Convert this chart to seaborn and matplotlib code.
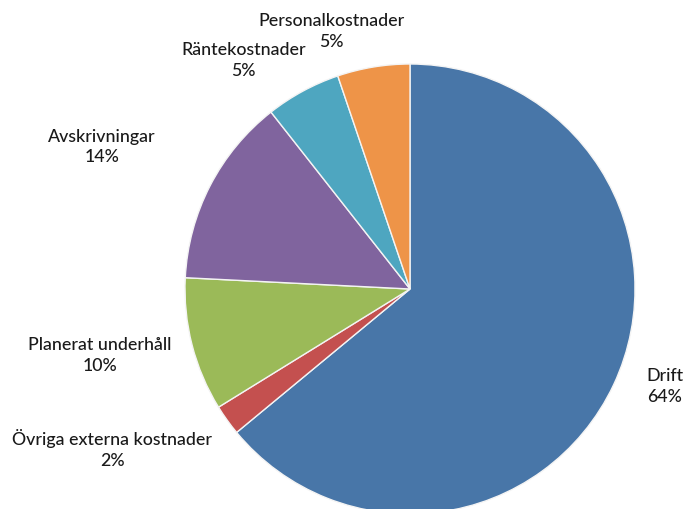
import matplotlib
matplotlib.use("Agg")
import matplotlib.pyplot as plt
import seaborn as sns
import numpy as np

categories = ["Drift", "Övriga externa kostnader", "Planerat underhåll",
              "Avskrivningar", "Räntekostnader", "Personalkostnader"]
values = [64.0, 2.2, 9.6, 13.6, 5.4, 5.2]

colors = ["#4876a8", "#c4504f", "#9bba58", "#80649e", "#4ea6c0", "#ee9448"]
# label placement (style): radial distance in radius units, angle offset in degrees
label_dist = [1.21, 1.50, 1.41, 1.51, 1.26, 1.20]
label_dang = [4.5, -7.5, -2.5, 2.5, 7.5, 7.5]

sns.set_theme(style="white")
plt.rcParams["font.family"] = ["Lato", "DejaVu Sans"]

fig = plt.figure(figsize=(6.96, 5.10), dpi=100)
ax = fig.add_axes([185/696, (510-515)/510, 450/696, 450/510])
wedges, _ = ax.pie(values, colors=colors, startangle=90, counterclock=False,
                   radius=1.0,
                   wedgeprops=dict(edgecolor="#f4f4f4", linewidth=1.0))
ax.set_xlim(-1, 1)
ax.set_ylim(-1, 1)
ax.axis("off")

total = sum(values)
for w, lab, v, d, da in zip(wedges, categories, values, label_dist, label_dang):
    ang = np.deg2rad((w.theta1 + w.theta2) / 2 + da)
    x, y = d * np.cos(ang), d * np.sin(ang)
    ax.text(x, y, f"{lab}\n{round(v / total * 100):.0f}%", ha="center", va="center",
            fontsize=12.8, color="#1a1a1a", linespacing=1.35, clip_on=False,
            fontweight="medium")

fig.savefig("out.png", dpi=100)
